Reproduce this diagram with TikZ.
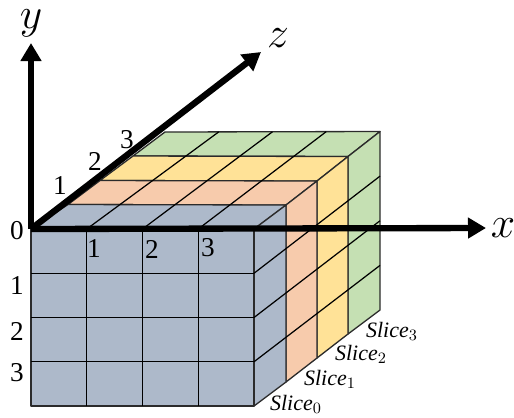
\documentclass[tikz,border=0pt]{standalone}
\usepackage{fontspec}
\setmainfont{Liberation Serif}
\usetikzlibrary{arrows.meta,calc}
\definecolor{slblue}{HTML}{ADB9CA}
\definecolor{slorange}{HTML}{F7CBAC}
\definecolor{slyellow}{HTML}{FFE297}
\definecolor{slgreen}{HTML}{C5E0B3}
\definecolor{slline}{HTML}{2B2B2B}
\begin{document}
\begin{tikzpicture}[
  x=0.02cm, y=-0.02cm,
  cell/.style={draw=slline, line width=0.75pt, line join=round},
  grid/.style={draw=black, line width=0.7pt},
  axis/.style={line width=3.6pt, -{Triangle[length=0.36cm, width=0.4cm]}},
  axlab/.style={font=\fontsize{24}{24}\selectfont, inner sep=0pt},
  tick/.style={font=\fontsize{15.5}{15.5}\selectfont, inner sep=0pt},
  slab/.style={font=\fontsize{12.5}{13}\selectfont\itshape, inner sep=0pt}
]
\useasboundingbox (0,0) rectangle (514,417);

\foreach \i/\lx/\ly/\rx/\ry/\by in {0/31/229/254/229/406, 1/68/204.5/286/205/382,
    2/100/180.5/317/181/358, 3/133/156/348/156.5/334, 4/165/132/380/131.5/310} {
  \coordinate (tl\i) at (\lx,\ly);
  \coordinate (tr\i) at (\rx,\ry);
  \coordinate (br\i) at (\rx,\by);
}
\coordinate (bl0) at (31,406);

% slices, back to front
\foreach \i/\j/\col in {3/4/slgreen, 2/3/slyellow, 1/2/slorange, 0/1/slblue} {
  \draw[cell, fill=\col] (tl\i) -- (tr\i) -- (tr\j) -- (tl\j) -- cycle;
  \draw[cell, fill=\col] (tr\i) -- (br\i) -- (br\j) -- (tr\j) -- cycle;
}
\draw[cell, fill=slblue] (tl0) rectangle (br0);

\foreach \k in {1,2,3} {
  \draw[grid] ($(tl0)!\k/4!(tr0)$) -- ($(tl4)!\k/4!(tr4)$);
  \draw[grid] ($(tr0)!\k/4!(br0)$) -- ($(tr4)!\k/4!(br4)$);
  \draw[grid] ($(tl0)!\k/4!(tr0)$) -- ($(bl0)!\k/4!(br0)$);
  \draw[grid] ($(tl0)!\k/4!(bl0)$) -- ($(tr0)!\k/4!(br0)$);
}

% axes
\coordinate (o) at (31,229);
\coordinate (xend) at (486,228);
\coordinate (yend) at (31,43);
\coordinate (zend) at (261,52);
\draw[axis] (o) -- (xend);
\draw[axis] (o) -- (yend);
\draw[axis] (o) -- (zend);

\node[axlab] (xlab) at (503,228) {$x$};
\node[axlab] (ylab) at (31,23) {$y$};
\node[axlab] (zlab) at (278,38) {$z$};

\node[tick] (n0) at (17,231) {0};
\node[tick] (x1) at (94,249) {1};
\node[tick] (x2) at (152,249) {2};
\node[tick] (x3) at (208,248) {3};
\node[tick] (y1) at (17,286) {1};
\node[tick] (y2) at (17,331) {2};
\node[tick] (y3) at (17,373) {3};
\node[tick] (z1) at (60,186) {1};
\node[tick] (z2) at (95,161) {2};
\node[tick] (z3) at (127,140) {3};

\node[slab] (s0) at (296,404) {Slice$_0$};
\node[slab] (s1) at (330,379) {Slice$_1$};
\node[slab] (s2) at (361,354) {Slice$_2$};
\node[slab] (s3) at (392,331) {Slice$_3$};
\end{tikzpicture}
\end{document}
